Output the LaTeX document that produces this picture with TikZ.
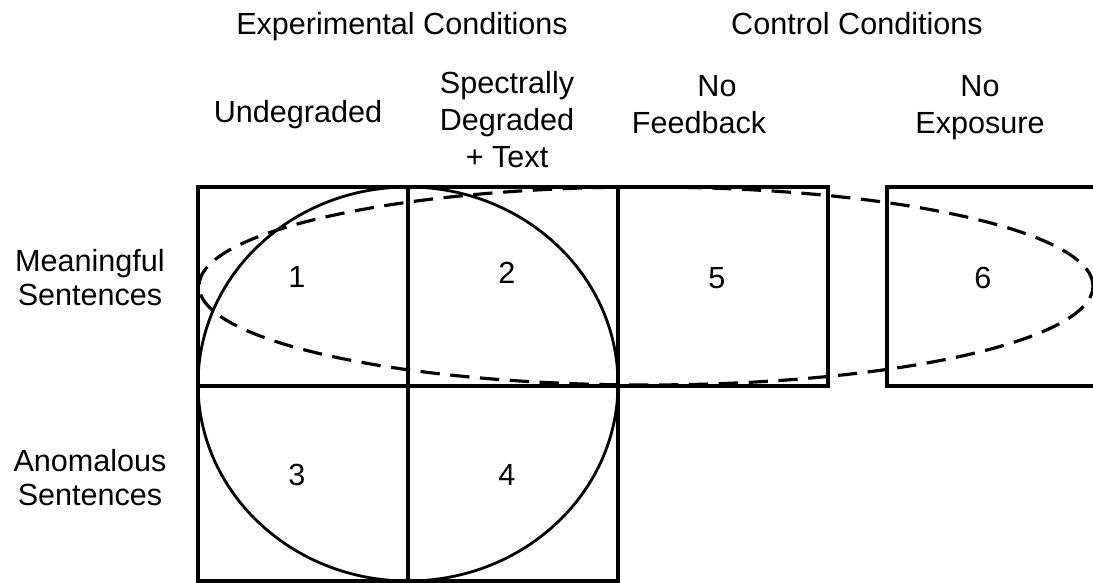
\documentclass[tikz,border=0pt]{standalone}
\usepackage{fontspec}
\setmainfont{Liberation Sans}

\begin{document}
\begin{tikzpicture}[
    lbl/.style={font=\fontsize{8.7}{10.5}\selectfont, align=center, inner sep=0pt},
    rowlbl/.style={font=\fontsize{8.7}{9.7}\selectfont, align=center, inner sep=0pt},
    cell/.style={line width=1.1pt},
    groupset/.style={line width=0.9pt, dash pattern=on 5.5pt off 3pt}
]
    \useasboundingbox (0,0) rectangle (10.93,5.83);
    \clip (0,0) rectangle (10.93,5.83);

    % Überschriften
    \node[lbl, anchor=base] (exper) at (4.02,5.48) {Experimental Conditions};
    \node[lbl, anchor=base] (contr) at (8.57,5.48) {Control Conditions};

    \node[lbl, anchor=base] (undeg) at (2.98,4.60) {Undegraded};
    \node[lbl] (specdeg) at (5.07,4.635) {Spectrally\\Degraded\\+ Text};
    \node[lbl] (nofeed) at (6.99,4.78) {\hspace*{0.36cm}No\\Feedback};
    \node[lbl] (noexp) at (9.80,4.75) {No\\Exposure};

    \node[rowlbl] (meaning) at (0.90,3.05) {Meaningful\\Sentences};
    \node[rowlbl] (anomal) at (0.90,1.055) {Anomalous\\Sentences};

    % Raster
    \draw[cell] (1.98,0.02) rectangle (6.18,3.96);
    \draw[cell] (1.98,1.97) -- (6.18,1.97);
    \draw[cell] (4.08,0.02) -- (4.08,3.96);
    \draw[cell] (6.18,1.97) rectangle (8.28,3.96);
    \draw[cell] (8.87,1.97) rectangle (11.2,3.96);

    % Zellen
    \node[lbl] (c1) at (2.97,3.06) {1};
    \node[lbl] (c2) at (5.07,3.10) {2};
    \node[lbl] (c5) at (7.17,3.05) {5};
    \node[lbl] (c6) at (9.83,3.05) {6};
    \node[lbl] (c3) at (2.97,1.08) {3};
    \node[lbl] (c4) at (5.07,1.08) {4};

    % Kreis und Ellipse
    \draw[line width=0.8pt] (4.08,1.99) ellipse [x radius=2.10, y radius=1.97];
    \draw[groupset] (6.46,2.97) ellipse [x radius=4.47, y radius=0.99];

\end{tikzpicture}
\end{document}
